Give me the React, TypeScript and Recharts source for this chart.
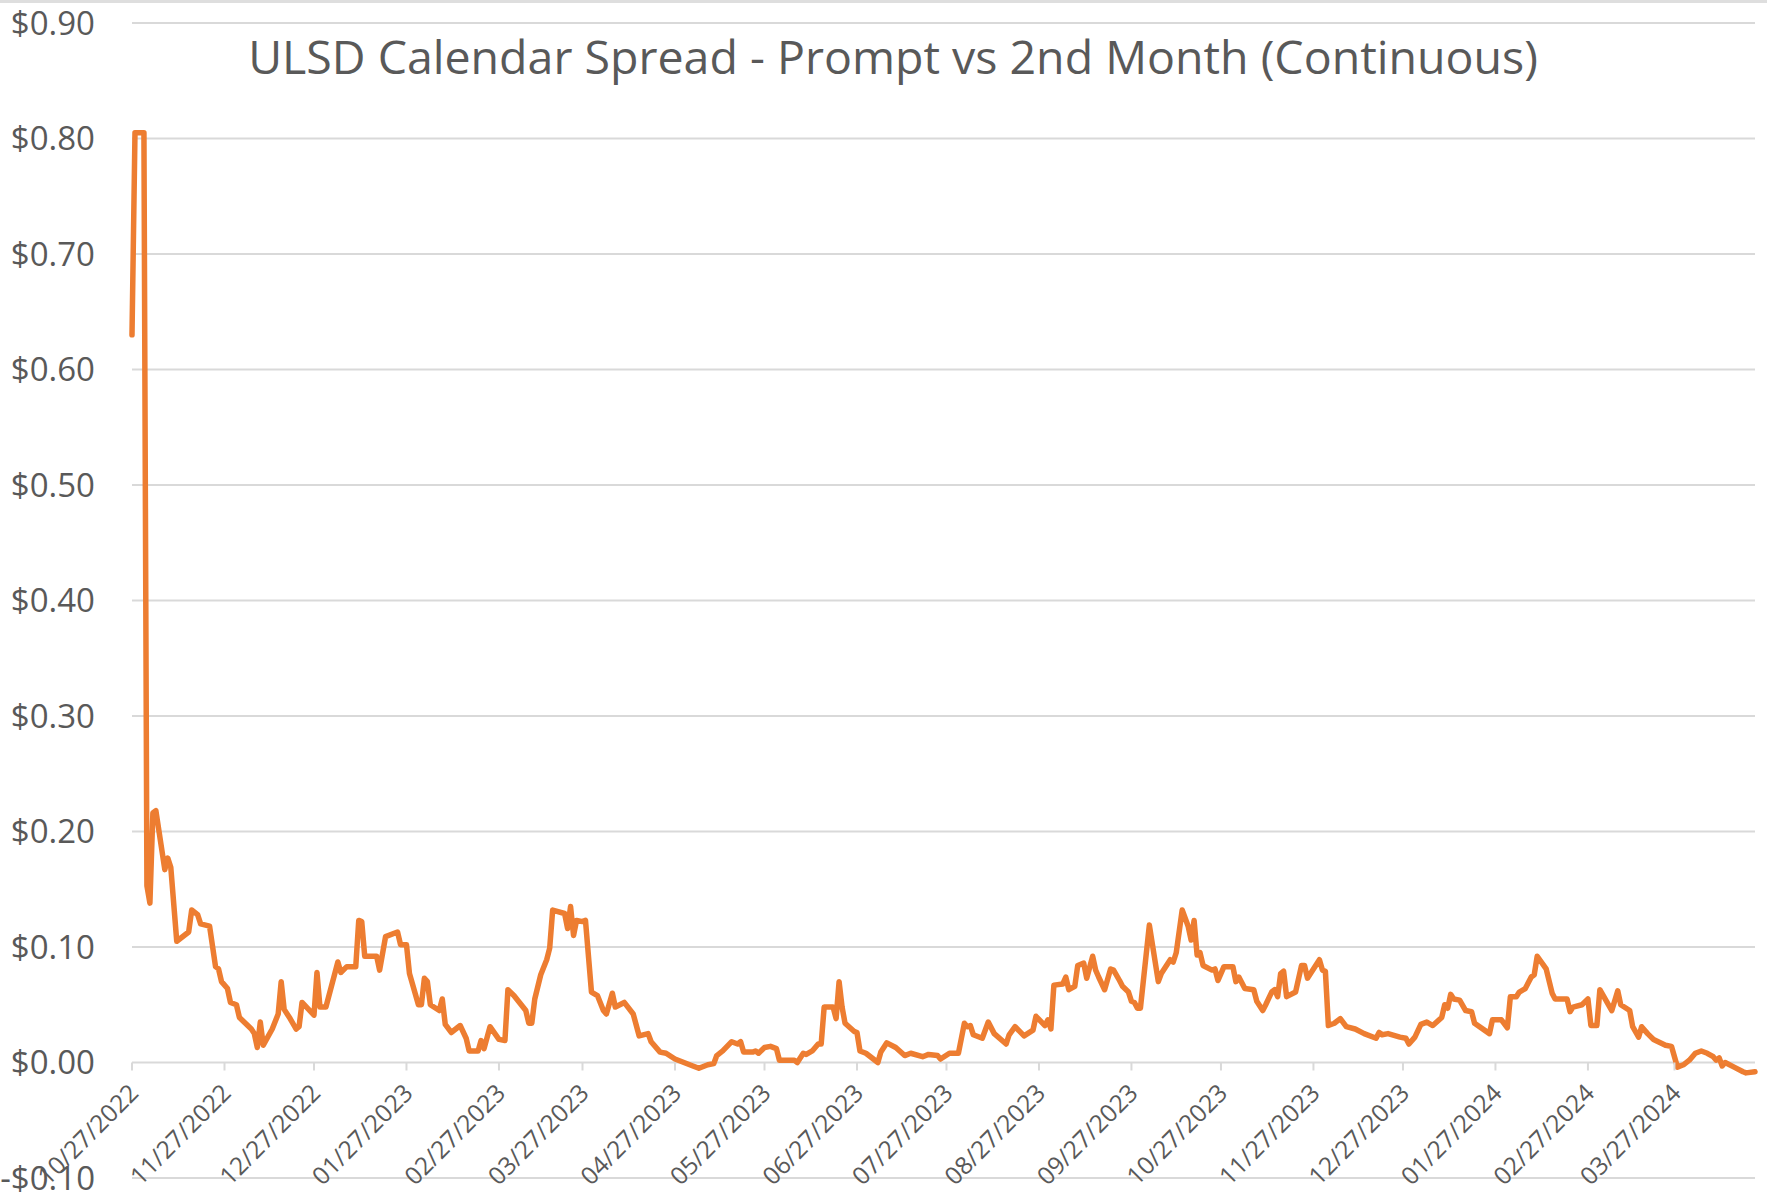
import React from 'react';
import { LineChart, Line, XAxis, YAxis, CartesianGrid } from 'recharts';

// [days since 10/27/2022, spread in $/gal]
const spreadOct22Jan23: [number, number][] = [
  [0, 0.63], [1, 0.805], [4, 0.805], [5, 0.153], [6, 0.138], [7, 0.216], [8, 0.218], [11, 0.167], [12, 0.177],
  [13, 0.169], [15, 0.105], [19, 0.113], [20, 0.132], [22, 0.128], [23, 0.12], [26, 0.118], [28, 0.083],
  [29, 0.081], [30, 0.07], [32, 0.064], [33, 0.052], [35, 0.05], [36, 0.039], [40, 0.029], [41, 0.025],
  [42, 0.013], [43, 0.035], [44, 0.015], [47, 0.029], [49, 0.042], [50, 0.07], [51, 0.046], [53, 0.038],
  [55, 0.029], [56, 0.031], [57, 0.052], [61, 0.041], [62, 0.078], [63, 0.048], [65, 0.048], [69, 0.087],
  [70, 0.078], [72, 0.083], [75, 0.083], [76, 0.123], [77, 0.122], [78, 0.092], [82, 0.092], [83, 0.08],
  [85, 0.109], [89, 0.113], [90, 0.102], [92, 0.102], [93, 0.077], [96, 0.05], [97, 0.05], [98, 0.073],
  [99, 0.07], [100, 0.05], [103, 0.045], [104, 0.055],
];

const spreadFeb23May23: [number, number][] = [
  [105, 0.033], [107, 0.026], [110, 0.032], [112, 0.021], [113, 0.01], [116, 0.01], [117, 0.019], [118, 0.012],
  [120, 0.031], [123, 0.02], [125, 0.019], [126, 0.063], [128, 0.058], [132, 0.045], [133, 0.034], [134, 0.034],
  [135, 0.055], [137, 0.076], [139, 0.089], [140, 0.099], [141, 0.132], [145, 0.129], [146, 0.116], [147, 0.135],
  [148, 0.11], [149, 0.123], [151, 0.122], [152, 0.123], [154, 0.061], [156, 0.058], [158, 0.045], [159, 0.042],
  [161, 0.06], [162, 0.048], [165, 0.052], [168, 0.042], [170, 0.023], [173, 0.025], [174, 0.018], [177, 0.009],
  [179, 0.008], [182, 0.003], [185, 0], [188, -0.003], [190, -0.005], [193, -0.002], [195, -0.001], [196, 0.006],
  [198, 0.01], [201, 0.018], [203, 0.016], [204, 0.018], [205, 0.009], [208, 0.009], [209, 0.01], [210, 0.008],
  [212, 0.013], [214, 0.014], [216, 0.012],
];

const spreadJun23Sep23: [number, number][] = [
  [217, 0.002], [222, 0.002], [223, 0], [225, 0.008], [226, 0.007], [228, 0.01], [230, 0.016], [231, 0.016],
  [232, 0.048], [235, 0.048], [236, 0.038], [237, 0.07], [238, 0.048], [239, 0.034], [242, 0.027], [243, 0.026],
  [244, 0.01], [246, 0.008], [250, 0], [251, 0.009], [253, 0.017], [256, 0.013], [259, 0.006], [261, 0.008],
  [265, 0.005], [267, 0.007], [270, 0.006], [271, 0.003], [274, 0.008], [277, 0.008], [279, 0.034], [280, 0.031],
  [281, 0.032], [282, 0.024], [285, 0.021], [287, 0.035], [289, 0.025], [293, 0.016], [294, 0.024], [296, 0.031],
  [299, 0.023], [302, 0.028], [303, 0.04], [306, 0.032], [307, 0.037], [308, 0.029], [309, 0.067], [312, 0.068],
  [313, 0.074], [314, 0.063], [316, 0.066], [317, 0.084], [319, 0.086], [320, 0.073], [322, 0.092], [323, 0.08],
  [324, 0.074], [326, 0.063], [328, 0.081], [329, 0.08], [331, 0.071], [332, 0.066], [334, 0.061], [335, 0.053],
  [336, 0.052], [337, 0.047], [338, 0.047],
];

const spreadOct23Dec23: [number, number][] = [
  [341, 0.119], [344, 0.07], [345, 0.077], [348, 0.089], [349, 0.087], [350, 0.095], [352, 0.132], [354, 0.118],
  [355, 0.106], [356, 0.123], [357, 0.093], [358, 0.095], [359, 0.084], [362, 0.08], [363, 0.081], [364, 0.071],
  [366, 0.083], [369, 0.083], [370, 0.07], [371, 0.074], [373, 0.064], [376, 0.063], [377, 0.053], [379, 0.045],
  [380, 0.05], [382, 0.061], [383, 0.063], [384, 0.057], [385, 0.077], [386, 0.079], [387, 0.057], [390, 0.061],
  [392, 0.084], [393, 0.084], [394, 0.073], [398, 0.089], [399, 0.08], [400, 0.079], [401, 0.032], [403, 0.034],
  [405, 0.038], [407, 0.031], [410, 0.029], [413, 0.025], [417, 0.021], [418, 0.026], [419, 0.024], [421, 0.025],
  [425, 0.022], [427, 0.021], [428, 0.016], [430, 0.022],
];

const spreadJan24Apr24: [number, number][] = [
  [432, 0.033], [434, 0.035], [436, 0.032], [439, 0.039], [440, 0.05], [441, 0.047], [442, 0.059], [443, 0.055],
  [445, 0.054], [447, 0.045], [449, 0.044], [450, 0.034], [455, 0.025], [456, 0.037], [459, 0.037], [461, 0.03],
  [462, 0.057], [464, 0.057], [465, 0.061], [467, 0.064], [469, 0.074], [470, 0.076], [471, 0.092], [474, 0.081],
  [476, 0.06], [477, 0.055], [481, 0.055], [482, 0.044], [483, 0.048], [486, 0.05], [488, 0.055], [489, 0.032],
  [491, 0.032], [492, 0.063], [496, 0.045], [498, 0.062], [499, 0.05], [502, 0.045], [503, 0.031], [505, 0.022],
  [506, 0.031], [508, 0.025], [510, 0.02], [514, 0.015], [516, 0.014], [518, -0.004], [520, -0.002], [522, 0.002],
  [524, 0.008], [526, 0.01], [528, 0.008], [530, 0.005], [531, 0.002], [532, 0.004], [533, -0.003], [534, 0],
  [537, -0.004], [540, -0.008], [541, -0.009], [544, -0.008],
];

const tickLabels = [
  '10/27/2022', '11/27/2022', '12/27/2022', '01/27/2023', '02/27/2023', '03/27/2023', '04/27/2023',
  '05/27/2023', '06/27/2023', '07/27/2023', '08/27/2023', '09/27/2023', '10/27/2023', '11/27/2023',
  '12/27/2023', '01/27/2024', '02/27/2024', '03/27/2024',
];

const yTicks = [-0.1, 0, 0.1, 0.2, 0.3, 0.4, 0.5, 0.6, 0.7, 0.8, 0.9];

const WIDTH = 1767;
const HEIGHT = 1201;
const X_AXIS_H = 23;
const MARGIN = { top: 23, right: 12, bottom: 0, left: 0 };
const Y_MIN = -0.1;
const Y_MAX = 0.9;
const PLOT_H = HEIGHT - MARGIN.top - MARGIN.bottom - X_AXIS_H;
const ZERO_Y = MARGIN.top + (PLOT_H * (Y_MAX - 0)) / (Y_MAX - Y_MIN);
const FONT = '"Open Sans", sans-serif';
const TEXT_COLOR = '#595959';
const GRID = '#d9d9d9';

const toDay = (label: string) => {
  const [m, d, y] = label.split('/').map(Number);
  return Math.round((Date.UTC(y, m - 1, d) - Date.UTC(2022, 9, 27)) / 86400000);
};

const tickDays = tickLabels.map(toDay);

const data = [
  ...spreadOct22Jan23,
  ...spreadFeb23May23,
  ...spreadJun23Sep23,
  ...spreadOct23Dec23,
  ...spreadJan24Apr24,
].map(([day, spread]) => ({ day, spread }));

const lastDay = data[data.length - 1].day;

const XTick = (props: any) => {
  const { x, payload } = props;
  const label = tickLabels[tickDays.indexOf(payload.value)] ?? '';
  const ax = x + 8;
  const ay = ZERO_Y + 32;
  return (
    <g>
      <line x1={x} x2={x} y1={ZERO_Y} y2={ZERO_Y + 8} stroke={GRID} strokeWidth={2} />
      <text
        x={ax}
        y={ay}
        textAnchor="end"
        transform={`rotate(-45, ${ax}, ${ay})`}
        fontSize={24.5}
        fontFamily={FONT}
        fill={TEXT_COLOR}
      >
        {label}
      </text>
    </g>
  );
};

const YTick = (props: any) => {
  const { y, payload } = props;
  const v = payload.value as number;
  const txt = v < 0 ? `-$${Math.abs(v).toFixed(2)}` : `$${v.toFixed(2)}`;
  return (
    <text x={95} y={y} dy="0.35em" textAnchor="end" fontSize={33} fontFamily={FONT} fill={TEXT_COLOR}>
      {txt}
    </text>
  );
};

export default function App() {
  return (
    <div style={{ position: 'absolute', left: 0, top: 0, width: WIDTH, height: HEIGHT, background: '#fff' }}>
      <div style={{ position: 'absolute', left: 0, top: 0, width: WIDTH, height: 3, background: '#dedede' }} />
      <LineChart width={WIDTH} height={HEIGHT} data={data} margin={MARGIN}>
        <CartesianGrid vertical={false} stroke={GRID} strokeWidth={2} />
        <XAxis
          dataKey="day"
          type="number"
          domain={[0, lastDay]}
          ticks={tickDays}
          interval={0}
          height={X_AXIS_H}
          axisLine={false}
          tickLine={false}
          tick={<XTick />}
        />
        <YAxis
          type="number"
          domain={[Y_MIN, Y_MAX]}
          ticks={yTicks}
          interval={0}
          width={132}
          axisLine={false}
          tickLine={false}
          tick={<YTick />}
        />
        <Line
          type="linear"
          dataKey="spread"
          stroke="#ED7D31"
          strokeWidth={5.5}
          strokeLinejoin="round"
          strokeLinecap="round"
          dot={false}
          isAnimationActive={false}
        />
      </LineChart>
      <div
        style={{
          position: 'absolute',
          left: 0,
          width: 1786,
          top: 24,
          textAlign: 'center',
          fontFamily: FONT,
          fontSize: 46.5,
          color: TEXT_COLOR,
          lineHeight: '64px',
          whiteSpace: 'nowrap',
        }}
      >
        ULSD Calendar Spread - Prompt vs 2nd Month (Continuous)
      </div>
    </div>
  );
}
